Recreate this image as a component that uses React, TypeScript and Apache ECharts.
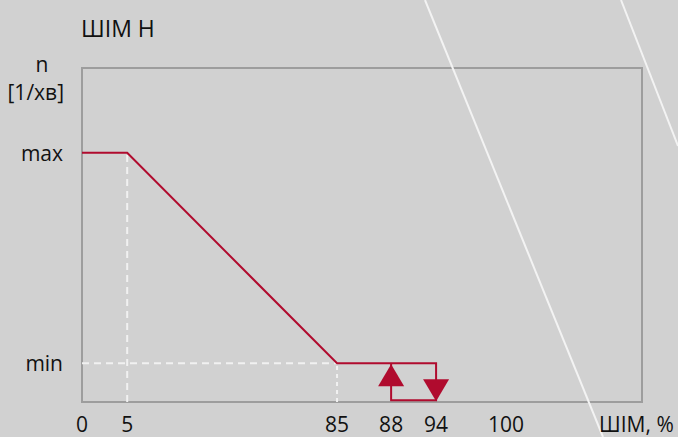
import React, { useEffect, useRef } from "react";
import * as echarts from "echarts";

// Chart title and axis names
const chartTitle = "ШІМ Н";
const xAxisName = "ШІМ, %";
const yAxisNameTop = "n";
const yAxisNameUnit = "[1/хв]";

// Non-linear (schematic) PWM scale: tick values and where each sits along the axis (% of axis length)
const pwmTicks = [0, 5, 85, 88, 94, 100];
const pwmTickAt = [0, 8.07, 45.54, 55.2, 63.23, 75.7];
const pwmNameAt = 99.0;

// Speed levels (schematic): label and where each sits along the y axis (% of axis height)
const speedLevels = ["stop", "min", "max"];
const speedLevelAt = [0.5, 11.6, 74.6];
const speedTickLabels = ["min", "max"];

// Characteristic curve (PWM %, speed level), including the hysteresis loop
const curvePwm = [0, 5, 85, 94, 94, 88, 88];
const curveSpeed = ["max", "max", "min", "min", "stop", "stop", "min"];

// Hysteresis arrows
const arrowPwm = [88, 94];
const arrowSpeed = ["min", "stop"];
const arrowDir = ["up", "down"];

// Dashed guide lines: [pwm from, speed from, pwm to, speed to]
const guideFromPwm = [5, 0, 85];
const guideFromSpeed = ["base", "min", "base"];
const guideToPwm = [5, 85, 85];
const guideToSpeed = ["max", "min", "min"];
const guideDash = [[7, 5], [7, 5], [4, 4]];

function pwmToAxis(p: number): number {
  for (let i = 0; i < pwmTicks.length - 1; i++) {
    const a = pwmTicks[i];
    const b = pwmTicks[i + 1];
    if (p >= a && p <= b) {
      return pwmTickAt[i] + ((p - a) / (b - a)) * (pwmTickAt[i + 1] - pwmTickAt[i]);
    }
  }
  return pwmTickAt[pwmTickAt.length - 1];
}

function speedToAxis(s: string): number {
  if (s === "base") return 0;
  const i = speedLevels.indexOf(s);
  return speedLevelAt[i];
}

const RED = "#b00b2e";
const TEXT = "#111111";
const FONT = "Open Sans";

export default function App() {
  const ref = useRef<HTMLDivElement>(null);

  useEffect(() => {
    if (!ref.current) return;
    const chart = echarts.init(ref.current, undefined, { renderer: "svg" });

    const curveData = curvePwm.map((p, i) => [pwmToAxis(p), speedToAxis(curveSpeed[i])]);

    const guideSeries = guideFromPwm.map((p, i) => ({
      type: "line",
      data: [
        [pwmToAxis(p), speedToAxis(guideFromSpeed[i])],
        [pwmToAxis(guideToPwm[i]), speedToAxis(guideToSpeed[i])],
      ],
      symbol: "none",
      silent: true,
      z: 1,
      lineStyle: { color: "#f1f1f1", width: 2, type: guideDash[i] },
    }));

    const arrowData = arrowPwm.map((p, i) => ({
      value: [pwmToAxis(p), speedToAxis(arrowSpeed[i])],
      symbolRotate: arrowDir[i] === "up" ? 0 : 180,
      symbolOffset: arrowDir[i] === "up" ? [0, 12] : [0, -10],
    }));

    const xLabelValues = [...pwmTickAt, pwmNameAt];
    const xLabelTexts = [...pwmTicks.map(String), xAxisName];
    const yLabelValues = speedTickLabels.map((s) => speedToAxis(s));

    chart.setOption({
      animation: false,
      backgroundColor: "#d1d1d1",
      title: {
        text: chartTitle,
        left: 81,
        top: 16,
        padding: 0,
        textStyle: { fontFamily: FONT, fontSize: 23, fontWeight: "normal", color: TEXT },
      },
      graphic: [
        {
          type: "line",
          z: 0,
          shape: { x1: 425, y1: 0, x2: 603, y2: 437 },
          style: { stroke: "#f3f3f3", lineWidth: 2 },
        },
        {
          type: "line",
          z: 0,
          shape: { x1: 621, y1: 0, x2: 678, y2: 146 },
          style: { stroke: "#f3f3f3", lineWidth: 2 },
        },
        {
          type: "text",
          x: 42,
          y: 64,
          style: {
            text: yAxisNameTop,
            fontFamily: FONT,
            fontSize: 21,
            fill: TEXT,
            align: "center",
            verticalAlign: "middle",
          },
        },
        {
          type: "text",
          x: 64,
          y: 92,
          style: {
            text: yAxisNameUnit,
            fontFamily: FONT,
            fontSize: 21,
            fill: TEXT,
            align: "right",
            verticalAlign: "middle",
          },
        },
      ],
      grid: {
        left: 82,
        top: 68,
        width: 560,
        height: 334,
        show: true,
        borderColor: "#9d9d9d",
        borderWidth: 2,
        backgroundColor: "transparent",
      },
      xAxis: {
        type: "value",
        min: 0,
        max: 100,
        axisLine: { show: false },
        axisTick: { show: false },
        splitLine: { show: false },
        axisLabel: {
          customValues: xLabelValues,
          margin: 11,
          fontFamily: FONT,
          fontSize: 21,
          color: TEXT,
          formatter: (v: number) => {
            let best = 0;
            let bd = Infinity;
            xLabelValues.forEach((x, i) => {
              const d = Math.abs(x - v);
              if (d < bd) {
                bd = d;
                best = i;
              }
            });
            return xLabelTexts[best];
          },
        },
      },
      yAxis: {
        type: "value",
        min: 0,
        max: 100,
        axisLine: { show: false },
        axisTick: { show: false },
        splitLine: { show: false },
        axisLabel: {
          customValues: yLabelValues,
          margin: 19,
          fontFamily: FONT,
          fontSize: 21,
          color: TEXT,
          formatter: (v: number) => {
            let best = 0;
            let bd = Infinity;
            yLabelValues.forEach((y, i) => {
              const d = Math.abs(y - v);
              if (d < bd) {
                bd = d;
                best = i;
              }
            });
            return speedTickLabels[best];
          },
        },
      },
      series: [
        ...guideSeries,
        {
          type: "line",
          data: curveData,
          symbol: "none",
          silent: true,
          z: 3,
          lineStyle: { color: RED, width: 2, join: "miter" },
        },
        {
          type: "scatter",
          data: arrowData,
          symbol: "triangle",
          symbolSize: [26, 22],
          silent: true,
          z: 4,
          itemStyle: { color: RED, opacity: 1 },
        },
      ],
    });

    return () => chart.dispose();
  }, []);

  return (
    <div
      ref={ref}
      style={{ position: "absolute", left: 0, top: 0, width: 678, height: 437 }}
    />
  );
}
